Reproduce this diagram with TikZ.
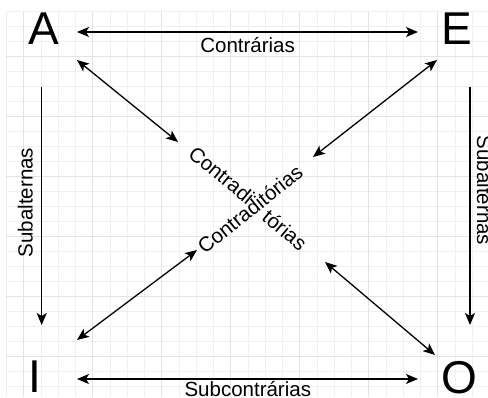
\documentclass[tikz,border=0pt]{standalone}
\usepackage{fontspec}
\setmainfont{Liberation Sans}
\usetikzlibrary{arrows.meta}
\begin{document}
\begin{tikzpicture}[x=1pt,y=-1pt,
  letter/.style={inner sep=0pt, font=\fontsize{46}{46}\selectfont},
  lbl/.style={inner sep=0pt, font=\fontsize{20.5}{24}\selectfont},
  minorgrid/.style={draw=black!6, line width=0.6pt},
  majorgrid/.style={draw=black!11, line width=0.7pt},
  dblarrow/.style={line width=1.3pt, {Stealth[length=12pt,width=10pt,inset=3pt]}-{Stealth[length=12pt,width=10pt,inset=3pt]}},
  onearrow/.style={line width=1.3pt, -{Stealth[length=12pt,width=10pt,inset=3pt]}}
]
\useasboundingbox (0,0) rectangle (488,397);
\fill[white] (0,0) rectangle (488,397);
% background grid
\foreach \i in {0,...,27} \draw[minorgrid] ({6.4+17.25*\i},11.7) -- ({6.4+17.25*\i},397);
\foreach \j in {0,...,25} \draw[minorgrid] (6.4,{11.7+15*\j}) -- (488,{11.7+15*\j});
\foreach \i in {0,...,6} \draw[majorgrid] ({23.65+69*\i},11.7) -- ({23.65+69*\i},397);
\foreach \j in {0,...,5} \draw[majorgrid] (6.4,{56.7+60*\j}) -- (488,{56.7+60*\j});

% corner letters
\node[letter] (A) at (44,28.5) {A};
\node[letter] (E) at (457,28.5) {E};
\node[letter] (I) at (35,376.5) {I};
\node[letter] (O) at (459,377.5) {O};

% free ends of the diagonal arrows near the centre
\coordinate (c1) at (178,142);
\coordinate (c2) at (325,262);
\coordinate (c3) at (313,157);
\coordinate (c4) at (197,250);

% connectors
\draw[dblarrow] ([shift={(33,3.5)}]A.center) -- ([shift={(-39,3.5)}]E.center);
\draw[dblarrow] ([shift={(42,2.5)}]I.center) -- ([shift={(-41,1.5)}]O.center);
\draw[onearrow] ([shift={(-2.3,58.5)}]A.center) -- ([shift={(6.7,-51.5)}]I.center);
\draw[onearrow] ([shift={(13,58.5)}]E.center) -- ([shift={(11,-52.5)}]O.center);
\draw[dblarrow] ([shift={(33,31.5)}]A.center) -- (c1);
\draw[dblarrow] (c2) -- ([shift={(-24,-22.5)}]O.center);
\draw[dblarrow] ([shift={(-20,31.5)}]E.center) -- (c3);
\draw[dblarrow] (c4) -- ([shift={(42,-36.5)}]I.center);

% labels
\node[lbl, anchor=base] (lc) at (247.6,52) {Contrárias};
\node[lbl, anchor=base] (ls) at (247.8,396.7) {Subcontrárias};
\node[lbl, anchor=base, rotate=90] (ll) at (32.7,202.5) {Subalternas};
\node[lbl, anchor=base, rotate=-90] (lr) at (477,190.5) {Subalternas};
\node[lbl, rotate=38.7] (ld) at (250,209) {Contraditórias};
\node[lbl, rotate=-39.5] (ld1) at (221.7,175) {Contradi};
\node[lbl, rotate=-39.5] (ld2) at (285,230) {tórias};
\end{tikzpicture}
\end{document}
